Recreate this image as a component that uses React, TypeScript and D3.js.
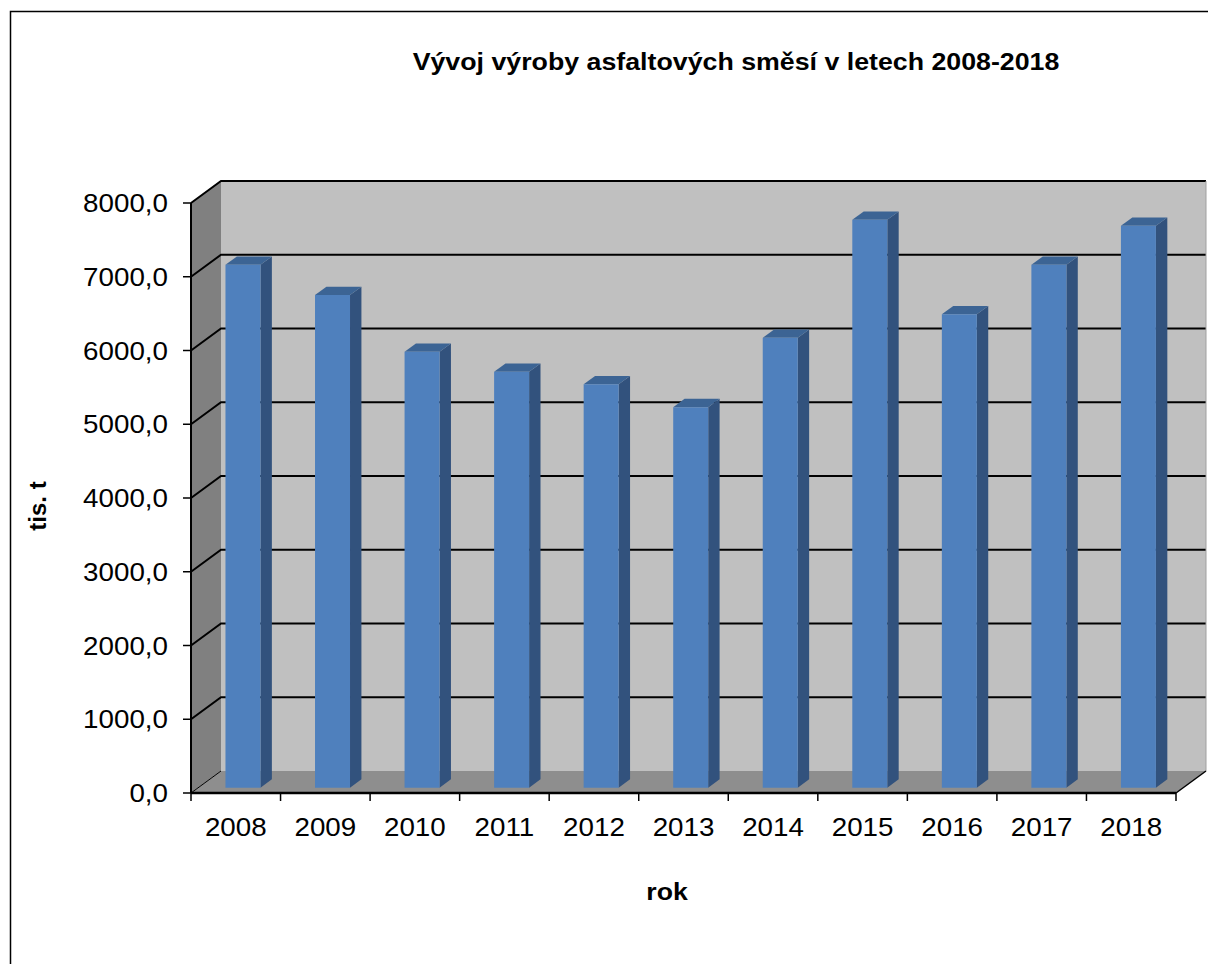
import React from 'react';
import * as d3 from 'd3';

const years = ['2008', '2009', '2010', '2011', '2012', '2013', '2014', '2015', '2016', '2017', '2018'];
const production = [7090, 6680, 5910, 5640, 5470, 5160, 6100, 7700, 6420, 7090, 7620];
const yTicks = [0, 1000, 2000, 3000, 4000, 5000, 6000, 7000, 8000];

const W = 1208;
const H = 964;
// depth offset of the 3D box
const DX = 30;
const DY = -22;
// the original text looks a bit wider than plain Arial
const SX = 1.11;
const FONT = '"Liberation Sans", Arial, sans-serif';

const App: React.FC = () => {
    const x = d3.scaleBand<string>().domain(years).range([191, 1176]);
    const y = d3.scaleLinear().domain([0, 8000]).range([793, 203]);

    const p = (px: number, py: number, z: number) => `${px + DX * z},${py + DY * z}`;

    const x0 = x.range()[0];
    const x1 = x.range()[1];
    const y0 = y(0);
    const yTop = y(8000);

    const fmt = (v: number) => d3.format('.1f')(v).replace('.', ',');

    const z0 = 0.24;
    const z1 = 0.62;
    const hw = 17.5;

    return (
        <svg width={W} height={H} style={{ position: 'absolute', left: 0, top: 0 }} fontFamily={FONT}>
            <rect x={0} y={0} width={W} height={H} fill="#fff" />
            <rect x={10.5} y={11.5} width={W + 20} height={H + 20} fill="none" stroke="#000" strokeWidth={1.5} />

            <text transform={`translate(736,70) scale(${SX},1)`} textAnchor="middle" fontSize={24.1} fontWeight="bold">
                Vývoj výroby asfaltových směsí v letech 2008-2018
            </text>

            {/* walls */}
            <polygon points={[p(x0, yTop, 1), p(x1, yTop, 1), p(x1, y0, 1), p(x0, y0, 1)].join(' ')} fill="#c0c0c0" />
            <polygon points={[p(x0, yTop, 0), p(x0, yTop, 1), p(x0, y0, 1), p(x0, y0, 0)].join(' ')} fill="#808080" />
            <polygon points={[p(x0, y0, 0), p(x0, y0, 1), p(x1, y0, 1), p(x1, y0, 0)].join(' ')} fill="#8e8e8e" />

            {/* gridlines on side and back wall */}
            {yTicks.map(t => (
                <g key={t}>
                    <polyline
                        points={t === 0 ? [p(x0, y(t), 0), p(x0, y(t), 1)].join(' ') : [p(x0, y(t), 0), p(x0, y(t), 1), p(x1, y(t), 1)].join(' ')}
                        fill="none"
                        stroke="#000"
                        strokeWidth={t === 0 ? 1 : 2}
                    />
                    <line x1={x0 - 8} x2={x0} y1={y(t)} y2={y(t)} stroke="#000" strokeWidth={1.5} />
                    <text transform={`translate(168,${y(t)}) scale(${SX},1)`} dy="0.36em" textAnchor="end" fontSize={25}>{fmt(t)}</text>
                </g>
            ))}
            <line x1={x1 + DX} x2={x1 + DX} y1={yTop + DY} y2={y0 + DY} stroke="#a0a0a0" strokeWidth={1} />

            {/* axes */}
            <line x1={x0} x2={x0} y1={yTop} y2={y0} stroke="#000" strokeWidth={2} />
            <line x1={x0} x2={x1} y1={y0} y2={y0} stroke="#000" strokeWidth={2.5} />
            <polyline points={[p(x1, y0, 0), p(x1, y0, 1)].join(' ')} fill="none" stroke="#000" strokeWidth={1.5} />
            {[...years.map(d => x(d) as number), x1].map((t, i) => (
                <line key={i} x1={t} x2={t} y1={y0} y2={y0 + 8} stroke="#000" strokeWidth={1.5} />
            ))}
            {years.map(d => (
                <text
                    key={d}
                    transform={`translate(${(x(d) as number) + x.bandwidth() / 2},836) scale(${SX},1)`}
                    textAnchor="middle"
                    fontSize={25}
                >
                    {d}
                </text>
            ))}

            {/* bars */}
            {years.map((d, i) => {
                const c = (x(d) as number) + x.bandwidth() / 2;
                const v = production[i];
                const yv = y(v);
                return (
                    <g key={d}>
                        <polygon
                            points={[p(c + hw, yv, z0), p(c + hw, yv, z1), p(c + hw, y0, z1), p(c + hw, y0, z0)].join(' ')}
                            fill="#32527d"
                        />
                        <polygon
                            points={[p(c - hw, yv, z0), p(c + hw, yv, z0), p(c + hw, yv, z1), p(c - hw, yv, z1)].join(' ')}
                            fill="#3c6494"
                        />
                        <polygon
                            points={[p(c - hw, yv, z0), p(c + hw, yv, z0), p(c + hw, y0, z0), p(c - hw, y0, z0)].join(' ')}
                            fill="#4f80bd"
                        />
                    </g>
                );
            })}

            <text transform="translate(46,506) rotate(-90)" textAnchor="middle" fontSize={24} fontWeight="bold">tis. t</text>
            <text transform={`translate(667,900) scale(${SX},1)`} textAnchor="middle" fontSize={24} fontWeight="bold">rok</text>
        </svg>
    );
};

export default App;
